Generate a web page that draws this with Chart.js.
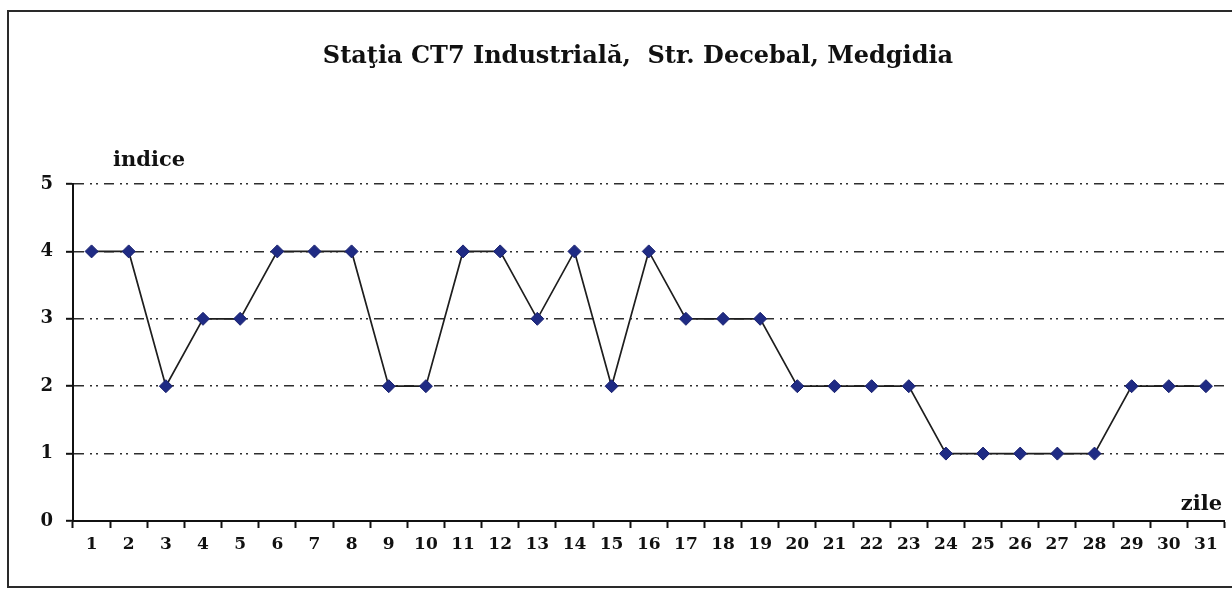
<!DOCTYPE html>
<html>
<head>
<meta charset="utf-8">
<script src="https://cdn.jsdelivr.net/npm/chart.js@4.4.0/dist/chart.umd.min.js"></script>
<style>
html, body { margin: 0; padding: 0; background: #fff; }
canvas { display: block; }
</style>
</head>
<body>
<canvas id="myChart" width="1232" height="589"></canvas>
<script>
// datele graficului
var titlu = 'Staţia CT7 Industrială,  Str. Decebal, Medgidia';
var eticheteY = 'indice';
var eticheteX = 'zile';
var zile = ['1', '2', '3', '4', '5', '6', '7', '8', '9', '10', '11', '12', '13', '14', '15', '16',
	'17', '18', '19', '20', '21', '22', '23', '24', '25', '26', '27', '28', '29', '30', '31'];
var indice = [4, 4, 2, 3, 3, 4, 4, 4, 2, 2, 4, 4, 3, 4, 2, 4, 3, 3, 3, 2, 2, 2, 2, 1, 1, 1, 1, 1, 2, 2, 2];
var yMin = 0;
var yMax = 5;

var font = 'DejaVu Serif';

// chenarul si textele fixe
var decor = {
	id: 'decor',
	beforeDraw: function(chart) {
		var c = chart.ctx;
		c.save();
		c.fillStyle = '#fff';
		c.fillRect(0, 0, chart.width, chart.height);
		c.strokeStyle = '#2a2a2a';
		c.lineWidth = 2;
		c.strokeRect(8, 11, 1300, 576);
		c.restore();
	},
	afterDraw: function(chart) {
		var c = chart.ctx;
		c.save();
		c.fillStyle = '#111';
		c.textBaseline = 'middle';
		c.font = 'bold 24px "' + font + '"';
		c.textAlign = 'center';
		c.fillText(titlu, 638, 57);
		c.font = 'bold 21px "' + font + '"';
		c.textAlign = 'left';
		c.fillText(eticheteY, 113, 161);
		c.textAlign = 'right';
		c.fillText(eticheteX, 1222, 505);
		c.restore();
	}
};

var ctx = document.getElementById('myChart').getContext('2d');
var myChart = new Chart(ctx, {
	type: 'line',
	data: {
		labels: zile,
		datasets: [{
			data: indice,
			borderColor: '#1e1e1e',
			borderWidth: 1.7,
			pointStyle: 'rectRot',
			pointRadius: 6.5,
			pointBackgroundColor: '#1f2b84',
			pointBorderColor: '#1a2270',
			pointBorderWidth: 1,
			tension: 0
		}]
	},
	options: {
		responsive: false,
		animation: false,
		layout: { padding: { top: 184, left: 0, right: 0, bottom: 0 } },
		plugins: {
			legend: { display: false },
			tooltip: { enabled: false }
		},
		scales: {
			x: {
				offset: true,
				grid: {
					offset: true,
					drawOnChartArea: false,
					drawTicks: true,
					tickLength: 7,
					tickColor: '#111',
					tickWidth: 2
				},
				border: { display: true, color: '#111', width: 2 },
				ticks: {
					color: '#111',
					padding: 6,
					maxRotation: 0,
					autoSkip: false,
					font: { family: font, weight: 'bold', size: 17 }
				},
				afterFit: function(scale) { scale.height = 68; }
			},
			y: {
				min: yMin,
				max: yMax,
				grid: {
					color: '#2e2e2e',
					lineWidth: 1.6,
					drawTicks: true,
					tickLength: 7,
					tickColor: '#111',
					tickWidth: 2,
					tickBorderDash: []
				},
				border: { display: true, color: '#111', width: 2, dash: [10, 6, 2, 4, 2, 6] },
				ticks: {
					stepSize: 1,
					color: '#111',
					padding: 13,
					font: { family: font, weight: 'bold', size: 18 }
				},
				afterFit: function(scale) { scale.width = 73; }
			}
		}
	},
	plugins: [decor]
});
</script>
</body>
</html>
